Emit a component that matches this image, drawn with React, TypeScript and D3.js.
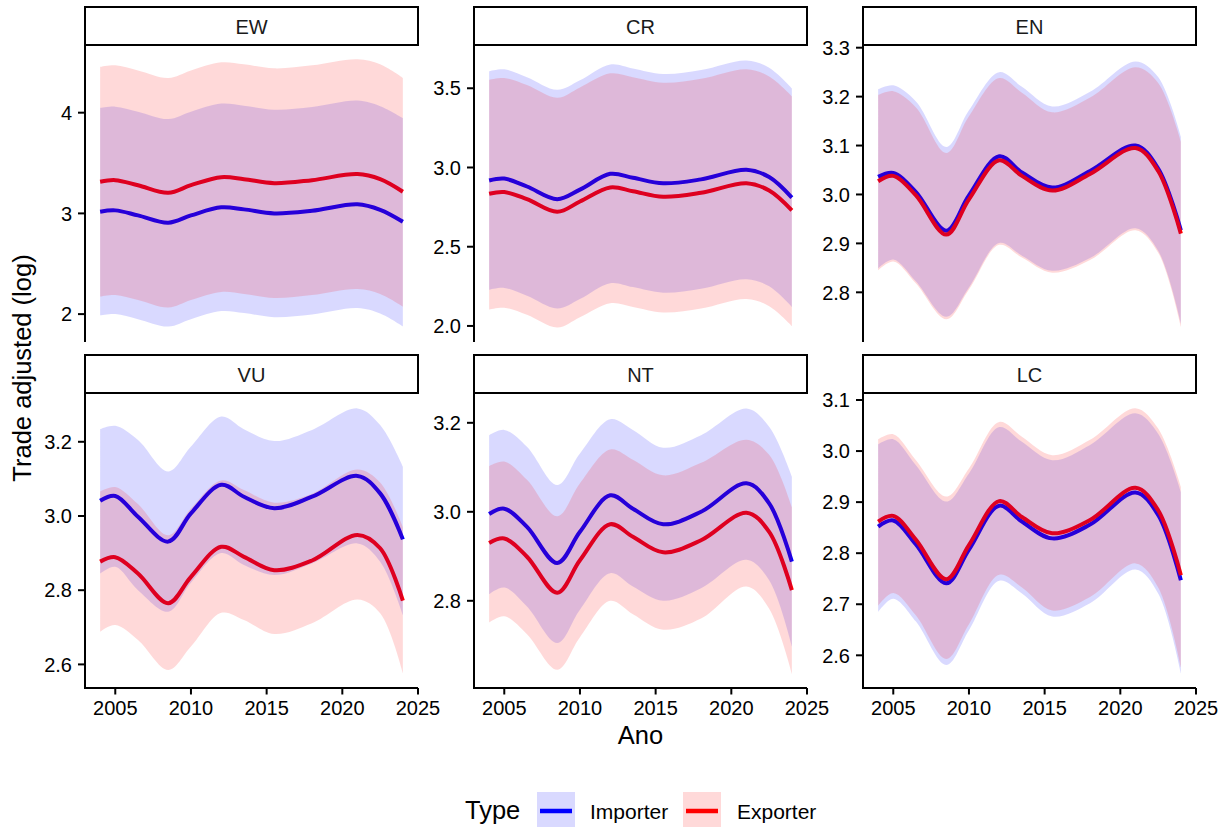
import React from "react";
import * as d3 from "d3";

// ---------- data ----------
const years = [2004, 2005, 2006.5, 2008.5, 2010, 2012, 2013.5, 2015.5, 2018, 2021, 2022.5, 2024];
const panelNames = ["EW", "CR", "EN", "VU", "NT", "LC"];
const seriesNames = ["Importer", "Exporter"];
const seriesColors = ["#0000FF", "#FF0000"];

const EW_imp_mean = [3.017, 3.03, 2.98, 2.907, 2.98, 3.06, 3.04, 3.0, 3.026, 3.09, 3.035, 2.917];
const EW_imp_hi = [4.047, 4.06, 4.01, 3.937, 4.01, 4.09, 4.07, 4.03, 4.056, 4.12, 4.065, 3.947];
const EW_imp_lo = [1.987, 2.0, 1.95, 1.877, 1.95, 2.03, 2.01, 1.97, 1.996, 2.06, 2.005, 1.877];
const EW_exp_mean = [3.314, 3.33, 3.28, 3.205, 3.28, 3.36, 3.34, 3.3, 3.33, 3.39, 3.34, 3.215];
const EW_exp_hi = [4.454, 4.47, 4.42, 4.345, 4.42, 4.5, 4.48, 4.44, 4.47, 4.53, 4.48, 4.345];
const EW_exp_lo = [2.174, 2.19, 2.14, 2.065, 2.14, 2.22, 2.2, 2.16, 2.19, 2.25, 2.2, 2.075];

const CR_imp_mean = [2.918, 2.93, 2.88, 2.8, 2.86, 2.96, 2.935, 2.9, 2.925, 2.985, 2.94, 2.81];
const CR_imp_hi = [3.608, 3.62, 3.57, 3.49, 3.55, 3.65, 3.625, 3.59, 3.615, 3.675, 3.63, 3.5];
const CR_imp_lo = [2.228, 2.24, 2.19, 2.11, 2.17, 2.27, 2.245, 2.21, 2.235, 2.295, 2.25, 2.12];
const CR_exp_mean = [2.834, 2.845, 2.8, 2.72, 2.785, 2.874, 2.85, 2.815, 2.84, 2.9, 2.855, 2.73];
const CR_exp_hi = [3.554, 3.565, 3.52, 3.44, 3.505, 3.594, 3.57, 3.535, 3.56, 3.62, 3.575, 3.45];
const CR_exp_lo = [2.104, 2.115, 2.07, 1.99, 2.055, 2.144, 2.12, 2.085, 2.11, 2.17, 2.125, 2.0];

const EN_imp_mean = [3.036, 3.044, 3.005, 2.926, 2.998, 3.078, 3.045, 3.014, 3.048, 3.1, 3.053, 2.927];
const EN_imp_hi = [3.215, 3.223, 3.19, 3.097, 3.172, 3.25, 3.22, 3.18, 3.21, 3.272, 3.24, 3.118];
const EN_imp_lo = [2.849, 2.867, 2.822, 2.75, 2.81, 2.901, 2.875, 2.844, 2.87, 2.931, 2.885, 2.736];
const EN_exp_mean = [3.027, 3.038, 2.998, 2.918, 2.99, 3.07, 3.038, 3.008, 3.042, 3.095, 3.048, 2.92];
const EN_exp_hi = [3.203, 3.211, 3.178, 3.085, 3.16, 3.238, 3.208, 3.168, 3.198, 3.26, 3.228, 3.108];
const EN_exp_lo = [2.845, 2.863, 2.818, 2.745, 2.806, 2.897, 2.871, 2.84, 2.866, 2.927, 2.881, 2.73];

const VU_imp_mean = [3.041, 3.054, 2.998, 2.931, 3.007, 3.084, 3.052, 3.021, 3.052, 3.108, 3.061, 2.937];
const VU_imp_hi = [3.234, 3.243, 3.205, 3.12, 3.187, 3.268, 3.234, 3.202, 3.232, 3.29, 3.245, 3.133];
const VU_imp_lo = [2.845, 2.863, 2.8, 2.742, 2.82, 2.9, 2.868, 2.841, 2.872, 2.926, 2.877, 2.733];
const VU_exp_mean = [2.877, 2.889, 2.845, 2.765, 2.836, 2.917, 2.89, 2.854, 2.88, 2.949, 2.913, 2.772];
const VU_exp_hi = [3.066, 3.078, 3.032, 2.948, 3.02, 3.096, 3.07, 3.036, 3.06, 3.125, 3.09, 2.97];
const VU_exp_lo = [2.688, 2.706, 2.666, 2.585, 2.648, 2.739, 2.72, 2.682, 2.711, 2.775, 2.738, 2.576];

const NT_imp_mean = [2.995, 3.007, 2.966, 2.885, 2.955, 3.037, 3.007, 2.972, 3.0, 3.064, 3.019, 2.888];
const NT_imp_hi = [3.172, 3.184, 3.146, 3.06, 3.131, 3.208, 3.184, 3.144, 3.172, 3.232, 3.191, 3.079];
const NT_imp_lo = [2.815, 2.83, 2.787, 2.705, 2.78, 2.862, 2.832, 2.8, 2.828, 2.892, 2.846, 2.697];
const NT_exp_mean = [2.93, 2.94, 2.899, 2.818, 2.891, 2.972, 2.944, 2.909, 2.936, 2.998, 2.955, 2.824];
const NT_exp_hi = [3.103, 3.113, 3.072, 2.99, 3.064, 3.14, 3.117, 3.082, 3.11, 3.162, 3.128, 3.01];
const NT_exp_lo = [2.751, 2.765, 2.725, 2.645, 2.718, 2.8, 2.77, 2.735, 2.76, 2.832, 2.782, 2.635];

const LC_imp_mean = [2.852, 2.864, 2.817, 2.741, 2.807, 2.893, 2.862, 2.829, 2.856, 2.919, 2.875, 2.747];
const LC_imp_hi = [3.013, 3.023, 2.972, 2.901, 2.956, 3.047, 3.018, 2.982, 3.012, 3.074, 3.034, 2.92];
const LC_imp_lo = [2.685, 2.711, 2.666, 2.581, 2.649, 2.746, 2.721, 2.676, 2.702, 2.768, 2.721, 2.565];
const LC_exp_mean = [2.862, 2.873, 2.826, 2.749, 2.816, 2.902, 2.871, 2.839, 2.865, 2.928, 2.884, 2.757];
const LC_exp_hi = [3.023, 3.033, 2.982, 2.911, 2.966, 3.057, 3.028, 2.992, 3.022, 3.084, 3.044, 2.93];
const LC_exp_lo = [2.697, 2.722, 2.678, 2.593, 2.661, 2.758, 2.733, 2.688, 2.714, 2.78, 2.733, 2.577];

const yDomains = [
  [1.733, 4.672],
  [1.905, 3.773],
  [2.7005, 3.3055],
  [2.5364, 3.3315],
  [2.604, 3.267],
  [2.536, 3.1137],
];
const yTickValues = [
  [2, 3, 4],
  [2.0, 2.5, 3.0, 3.5],
  [2.8, 2.9, 3.0, 3.1, 3.2, 3.3],
  [2.6, 2.8, 3.0, 3.2],
  [2.8, 3.0, 3.2],
  [2.6, 2.7, 2.8, 2.9, 3.0, 3.1],
];
const yTickFormats = ["d", ".1f", ".1f", ".1f", ".1f", ".1f"];
const xDomain = [2003, 2025];
const xTickValues = [2005, 2010, 2015, 2020, 2025];

const panelSeries = [
  [[EW_imp_mean, EW_imp_lo, EW_imp_hi], [EW_exp_mean, EW_exp_lo, EW_exp_hi]],
  [[CR_imp_mean, CR_imp_lo, CR_imp_hi], [CR_exp_mean, CR_exp_lo, CR_exp_hi]],
  [[EN_imp_mean, EN_imp_lo, EN_imp_hi], [EN_exp_mean, EN_exp_lo, EN_exp_hi]],
  [[VU_imp_mean, VU_imp_lo, VU_imp_hi], [VU_exp_mean, VU_exp_lo, VU_exp_hi]],
  [[NT_imp_mean, NT_imp_lo, NT_imp_hi], [NT_exp_mean, NT_exp_lo, NT_exp_hi]],
  [[LC_imp_mean, LC_imp_lo, LC_imp_hi], [LC_exp_mean, LC_exp_lo, LC_exp_hi]],
];

// ---------- layout ----------
const W = 1221;
const H = 827;
const FONT = "'Liberation Sans', Arial, Helvetica, sans-serif";
const colX = [85, 474, 863];
const panelW = 333;
const stripTop = [7, 355];
const stripH = 38;
const panelBottom = [341, 688];
const curve = d3.curveCatmullRom.alpha(0.5);

function Panel({ idx }: { idx: number }) {
  const row = Math.floor(idx / 3);
  const col = idx % 3;
  const x0 = colX[col];
  const top = stripTop[row] + stripH;
  const bottom = panelBottom[row];
  const x = d3.scaleLinear().domain(xDomain).range([x0, x0 + panelW]);
  const y = d3.scaleLinear().domain(yDomains[idx]).range([bottom, top]);
  const fmt = d3.format(yTickFormats[idx]);

  const line = d3
    .line<number>()
    .x((_, k) => x(years[k]))
    .y((d) => y(d))
    .curve(curve);
  const area = d3
    .area<{ yr: number; lo: number; hi: number }>()
    .x((d) => x(d.yr))
    .y0((d) => y(d.lo))
    .y1((d) => y(d.hi))
    .curve(curve);

  const series = panelSeries[idx];

  return (
    <g>
      {series.map((s, si) => (
        <path key={"l" + si} d={line(s[0]) || ""} fill="none" stroke={seriesColors[si]} strokeWidth={4} />
      ))}
      {series.map((s, si) => (
        <path
          key={"a" + si}
          d={area(years.map((yr, k) => ({ yr, lo: s[1][k], hi: s[2][k] }))) || ""}
          fill={seriesColors[si]}
          fillOpacity={0.15}
          stroke="none"
        />
      ))}
      {/* strip */}
      <rect x={x0} y={stripTop[row]} width={panelW} height={stripH} fill="#fff" stroke="#000" strokeWidth={2} />
      <text
        x={x0 + panelW / 2}
        y={stripTop[row] + 26.5}
        textAnchor="middle"
        fontSize={20}
        fontFamily={FONT}
        fill="#1a1a1a"
      >
        {panelNames[idx]}
      </text>
      {/* y axis */}
      <line x1={x0} x2={x0} y1={top} y2={bottom + 1} stroke="#000" strokeWidth={2} />
      {yTickValues[idx].map((t) => (
        <g key={t}>
          <line x1={x0 - 7} x2={x0} y1={y(t)} y2={y(t)} stroke="#000" strokeWidth={2} />
          <text
            x={x0 - 13}
            y={y(t)}
            dy="0.36em"
            textAnchor="end"
            fontSize={20}
            fontFamily={FONT}
            fill="#000"
          >
            {fmt(t)}
          </text>
        </g>
      ))}
      {/* x axis (bottom row only) */}
      {row === 1 && (
        <g>
          <line x1={x0 - 1} x2={x0 + panelW} y1={bottom} y2={bottom} stroke="#000" strokeWidth={2} />
          {xTickValues.map((t) => (
            <g key={t}>
              <line x1={x(t)} x2={x(t)} y1={bottom} y2={bottom + 6.5} stroke="#000" strokeWidth={2} />
              <text x={x(t)} y={715} textAnchor="middle" fontSize={20} fontFamily={FONT} fill="#000">
                {t}
              </text>
            </g>
          ))}
        </g>
      )}
    </g>
  );
}

export default function App() {
  const legendKeys = [537, 683];
  const legendTextX = [590, 737];
  return (
    <svg
      width={W}
      height={H}
      style={{ position: "absolute", left: 0, top: 0, background: "#fff" }}
      xmlns="http://www.w3.org/2000/svg"
    >
      <rect x={0} y={0} width={W} height={H} fill="#fff" />
      {panelNames.map((_, i) => (
        <Panel key={i} idx={i} />
      ))}
      {/* axis titles */}
      <text
        transform="translate(31,368) rotate(-90)"
        textAnchor="middle"
        fontSize={25.5}
        fontFamily={FONT}
        fill="#000"
      >
        Trade adjusted (log)
      </text>
      <text x={640.5} y={744} textAnchor="middle" fontSize={25.5} fontFamily={FONT} fill="#000">
        Ano
      </text>
      {/* legend */}
      <text x={465} y={819} fontSize={25.5} fontFamily={FONT} fill="#000">
        Type
      </text>
      {seriesNames.map((name, i) => (
        <g key={name}>
          <rect x={legendKeys[i]} y={792} width={38} height={38} fill={seriesColors[i]} fillOpacity={0.15} />
          <line
            x1={legendKeys[i] + 3}
            x2={legendKeys[i] + 35}
            y1={811}
            y2={811}
            stroke={seriesColors[i]}
            strokeWidth={4.5}
          />
          <text x={legendTextX[i]} y={818.5} fontSize={21} fontFamily={FONT} fill="#000">
            {name}
          </text>
        </g>
      ))}
    </svg>
  );
}
